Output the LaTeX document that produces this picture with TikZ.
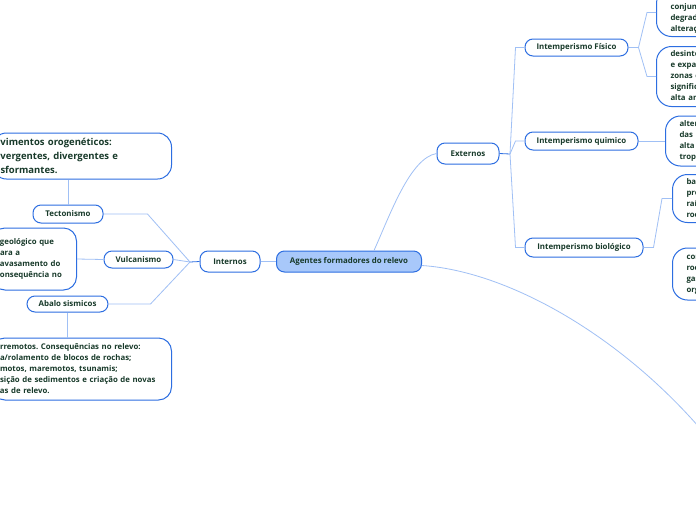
\documentclass[tikz,border=0pt]{standalone}
\usepackage{fontspec}
\setmainfont{Open Sans}
\frenchspacing
\definecolor{nblue}{RGB}{45,110,225}
\definecolor{lblue}{RGB}{160,192,245}
\definecolor{cfill}{RGB}{168,200,250}
\definecolor{txt}{RGB}{24,58,42}
\newcommand{\pfx}[1]{\leavevmode\llap{#1}}
\begin{document}
\begin{tikzpicture}[x=1pt,y=-1pt,
  pill/.style={draw=nblue,line width=1pt,rounded corners=8pt,fill=white,text=txt,
    font=\fontsize{7.9}{9}\selectfont\bfseries,inner sep=0pt},
  bigbox/.style={draw=nblue,line width=1pt,rounded corners=13pt,fill=white,text=txt,
    font=\fontsize{7.8}{11}\selectfont\bfseries,align=left,inner xsep=8pt,inner ysep=0pt},
  rbox/.style={bigbox,inner xsep=14pt,text width=220pt,anchor=west,rounded corners=15pt},
  conn/.style={draw=lblue,line width=0.8pt},
  dconn/.style={draw=nblue,line width=0.8pt}]
\fill[white] (0,0) rectangle (696,520);
\useasboundingbox (0,0) rectangle (696,520);
\clip (0,0) rectangle (696,520);

% central and main nodes
\node[pill,fill=cfill,minimum width=145pt,minimum height=21pt] (ag) at (349,261.5) {Agentes formadores do relevo};
\node[pill,minimum width=60pt,minimum height=21pt] (int) at (230,261.5) {Internos};
\node[pill,minimum width=62pt,minimum height=21pt] (ext) at (468,153.5) {Externos};
\node[pill,minimum width=70pt,minimum height=18pt] (tec) at (68,214) {Tectonismo};
\node[pill,minimum width=69pt,minimum height=17pt] (vul) at (138.5,259.5) {Vulcanismo};
\node[pill,minimum width=81pt,minimum height=16pt] (aba) at (67.5,304) {Abalo sismicos};
\node[pill,minimum width=103pt,minimum height=17pt] (fis) at (576.5,47.5) {Intemperismo Físico};
\node[pill,minimum width=113pt,minimum height=18pt] (qui) at (581.5,141) {Intemperismo quimico};
\node[pill,minimum width=118pt,minimum height=19pt] (bio) at (584,247.5) {Intemperismo biológico};

% left boxes (clipped on the left)
\node[bigbox,font=\fontsize{9.5}{14}\selectfont\bfseries,text width=163pt,minimum height=46pt,anchor=east,rounded corners=14pt] (mov) at (172,156)
  {\pfx{Mo}vimentos orogenéticos:\\\pfx{con}vergentes, divergentes e\\\pfx{tran}sformantes.};
\node[bigbox,text width=68.5pt,minimum height=62pt,anchor=east] (vbox) at (77,259)
  {\pfx{Fenômeno }geológico que\\\pfx{disp}ara a\\\pfx{extr}avasamento do\\\pfx{magma. C}onsequência no};
\node[bigbox,text width=163.5pt,minimum height=62pt,anchor=east] (tbox) at (172,369)
  {\pfx{Te}rremotos. Consequências no relevo:\\\pfx{qued}a/rolamento de blocos de rochas;\\\pfx{terre}motos, maremotos, tsunamis;\\\pfx{depo}sição de sedimentos e criação de novas\\\pfx{form}as de relevo.};

% right boxes (clipped on the right)
\node[rbox,minimum height=48pt] (ba) at (656,12.5)
  {processo que envolve o\\conjunto de processos de\\degradação mecânica, sem\\alteração química.};
\node[rbox,minimum height=60pt] (bb) at (656,76.5)
  {desintegração das rochas\\e expansão e contração em\\zonas com variação\\significativa de temperatura,\\alta amplitude térmica.};
\node[rbox,minimum height=50pt] (bc) at (665,141)
  {alteração química\\das rochas, em áreas de\\alta umidade, como regiões\\tropicais.};
\node[rbox,minimum height=48pt] (bd) at (672,198.5)
  {bactérias, fungos e\\produtos da ação de\\raízes que fragmentam\\rochas.};
\node[rbox,minimum height=52pt] (be) at (672,274)
  {compostos que atacam as\\rochas, provenientes de\\gases e ácidos\\orgânicos.};

% branch points
\coordinate (ib) at (190,262);
\coordinate (eb) at (510,154);
\coordinate (far) at (740,480);

% connectors
\draw[conn] (int.east) -- (ag.west);
\draw[dconn] (int.west) -- (ib);
\draw[conn] (ib) -- ([xshift=44pt]tec.east) -- (tec.east);
\draw[conn] (ib) -- (vul.east);
\draw[conn] (ib) -- ([xshift=42pt]aba.east) -- (aba.east);
\draw[conn] (tec.north) -- (tec.north |- mov.south);
\draw[conn] (aba.south) -- (aba.south |- tbox.north);
\draw[conn] (vbox.east) -- (vul.west);

\draw[conn] ([xshift=25pt]ag.north) .. controls (390,215) and (410,158) .. (ext.west);
\draw[conn] ([yshift=-4pt]ag.east) .. controls (520,272) and (655,355) .. (far);

\draw[dconn] (ext.east) -- (eb);
\draw[conn] (eb) -- ([xshift=-9pt]fis.west) -- (fis.west);
\draw[conn] (eb) -- ([xshift=-9pt]qui.west) -- (qui.west);
\draw[conn] (eb) -- ([xshift=-9pt]bio.west) -- (bio.west);

\draw[conn] (fis.east) -- ([xshift=10pt]fis.east) -- ([xshift=-9pt]ba.west) -- (ba.west);
\draw[conn] ([xshift=10pt]fis.east) -- ([xshift=-9pt]bb.west) -- (bb.west);
\draw[conn] (qui.east) -- (bc.west);
\draw[conn] (bio.east) -- ([xshift=10pt]bio.east) -- ([xshift=-10pt]bd.west) -- (bd.west);
\end{tikzpicture}
\end{document}
